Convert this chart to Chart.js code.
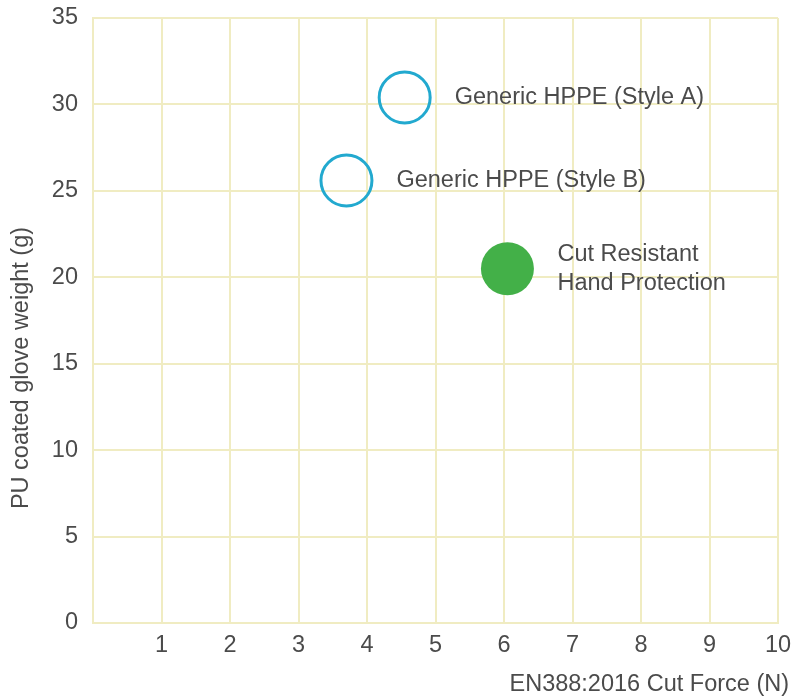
<!DOCTYPE html>
<html>
<head>
<meta charset="utf-8">
<script src="https://cdn.jsdelivr.net/npm/chart.js@4/dist/chart.umd.min.js"></script>
<style>
  html, body { margin: 0; padding: 0; background: #fff; }
  #wrap { width: 809px; height: 696px; }
</style>
</head>
<body>
<div id="wrap"><canvas id="chart" width="809" height="696"></canvas></div>
<script>
// glove comparison: cut force vs coated weight
const productNames = ['Generic HPPE (Style A)', 'Generic HPPE (Style B)', 'Cut Resistant Hand Protection']
const labelLines = [['Generic HPPE (Style A)'], ['Generic HPPE (Style B)'], ['Cut Resistant', 'Hand Protection']]
const cutForce = [4.55, 3.7, 6.05]
const gloveWeight = [30.4, 25.6, 20.5]
const xTickValues = [1, 2, 3, 4, 5, 6, 7, 8, 9, 10]
const yTickValues = [0, 5, 10, 15, 20, 25, 30, 35]
const xTitle = 'EN388:2016 Cut Force (N)'
const yTitle = 'PU coated glove weight (g)'

const textColor = '#4b4b4b'
const gridColor = '#f0ecc2'
const blue = '#22a9cf'
const green = '#43b048'
const fontFamily = '"Liberation Sans", Arial, Helvetica, sans-serif'

// product names next to each point, plus both axis titles
const annotate = {
    id: 'annotate',
    afterDatasetsDraw(chart) {
        const ctx = chart.ctx
        const xs = chart.scales.x
        const ys = chart.scales.y
        const area = chart.chartArea
        ctx.save()
        ctx.fillStyle = textColor
        ctx.font = '23.5px ' + fontFamily
        ctx.textBaseline = 'middle'
        ctx.textAlign = 'left'
        cutForce.forEach((v, i) => {
            const px = xs.getPixelForValue(v) + 50
            const py = ys.getPixelForValue(gloveWeight[i])
            const lines = labelLines[i]
            const lh = 29
            lines.forEach((t, j) => {
                ctx.fillText(t, px, py + (j - (lines.length - 1) / 2) * lh)
            })
        })
        // x title sits under the tick labels, right aligned
        ctx.textAlign = 'right'
        ctx.fillText(xTitle, area.right + 11, 685)
        // y title rotated on the left
        ctx.translate(22, 368)
        ctx.rotate(-Math.PI / 2)
        ctx.textAlign = 'center'
        ctx.fillText(yTitle, 0, 0)
        ctx.restore()
    }
}

const ctx = document.getElementById('chart')
const chart = new Chart(ctx, {
    type: 'scatter',
    data: {
        datasets: [{
            label: productNames[0],
            data: [{ x: cutForce[0], y: gloveWeight[0] }],
            pointRadius: 25.5,
            borderWidth: 3,
            borderColor: blue,
            backgroundColor: 'rgba(255,255,255,0)'
        }, {
            label: productNames[1],
            data: [{ x: cutForce[1], y: gloveWeight[1] }],
            pointRadius: 25.5,
            borderWidth: 3,
            borderColor: blue,
            backgroundColor: 'rgba(255,255,255,0)'
        }, {
            label: productNames[2],
            data: [{ x: cutForce[2], y: gloveWeight[2] }],
            pointRadius: 26.5,
            borderWidth: 0,
            borderColor: green,
            backgroundColor: green
        }]
    },
    options: {
        responsive: false,
        animation: false,
        events: [],
        layout: {
            autoPadding: false,
            padding: { top: 18, right: 31, bottom: 0, left: 0 }
        },
        plugins: {
            legend: { display: false },
            tooltip: { enabled: false }
        },
        scales: {
            x: {
                type: 'linear',
                min: 0,
                max: 10,
                afterFit(scale) {
                    scale.height = 73
                    scale.paddingRight = 0
                },
                afterBuildTicks(scale) {
                    scale.ticks = [0].concat(xTickValues).map(v => ({ value: v }))
                },
                grid: { color: gridColor, lineWidth: 2, drawTicks: false },
                border: { color: gridColor, width: 2 },
                ticks: {
                    padding: 8,
                    color: textColor,
                    font: { family: fontFamily, size: 23.5 },
                    maxRotation: 0,
                    callback: v => (xTickValues.includes(v) ? String(v) : '')
                }
            },
            y: {
                type: 'linear',
                min: 0,
                max: 35,
                afterFit(scale) {
                    scale.width = 93
                    scale.paddingTop = 0
                    scale.paddingBottom = 0
                },
                afterBuildTicks(scale) {
                    scale.ticks = yTickValues.map(v => ({ value: v }))
                },
                grid: { color: gridColor, lineWidth: 2, drawTicks: false },
                border: { color: gridColor, width: 2 },
                ticks: {
                    padding: 15,
                    color: textColor,
                    font: { family: fontFamily, size: 23.5 }
                }
            }
        }
    },
    plugins: [annotate]
})
</script>
</body>
</html>
